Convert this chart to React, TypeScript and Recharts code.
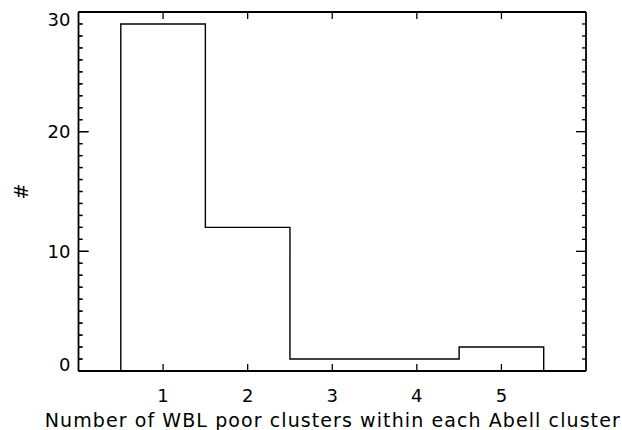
import React from 'react';
import { ComposedChart, Line, XAxis, YAxis, ReferenceLine } from 'recharts';

// histogram bins (centres) and counts
const binCenters = [1, 2, 3, 4, 5];
const counts = [29, 12, 1, 1, 2];
const xTicks = [1, 2, 3, 4, 5];
const yMajorTicks = [0, 10, 20, 30];
const yMinorStep = 1;
const xDomain: [number, number] = [0, 6];
const yDomain: [number, number] = [0, 30];

// build the step outline: left edge of each bin carries its count
const stepData = [
  { x: xDomain[0], y: 0 },
  ...binCenters.map((c, i) => ({ x: c - 0.5, y: counts[i] })),
  { x: binCenters[binCenters.length - 1] + 0.5, y: 0 },
  { x: xDomain[1], y: 0 },
];

const yAllTicks: number[] = [];
for (let v = yDomain[0]; v <= yDomain[1]; v += yMinorStep) yAllTicks.push(v);

const FONT = '"DejaVu Sans", sans-serif';
const INK = '#000';
const Y_AXIS_W = 78.5;
// left-frame tick length in x data units (plot is ~84.6px per unit)
const MAJOR_LEN = 10 / 84.6;
const MINOR_LEN = 4 / 84.6;

const BottomTick = (props: any) => {
  const { x, y, payload } = props;
  return (
    <g>
      <line x1={x} x2={x} y1={y} y2={Number(y) - 7} stroke={INK} strokeWidth={1.3} />
      <text x={x} y={Number(y) + 31} textAnchor="middle" fontSize={18} fontFamily={FONT} fill={INK}>
        {payload.value}
      </text>
    </g>
  );
};

const TopTick = (props: any) => {
  const { x, y } = props;
  return <line x1={x} x2={x} y1={y} y2={Number(y) + 7} stroke={INK} strokeWidth={1.3} />;
};

const LeftTick = (props: any) => {
  const x = Number(props.x);
  const y = Number(props.y);
  const v = props.payload.value;
  if (!yMajorTicks.includes(v)) return <g />;
  let base = y + 6.5;
  if (v === yDomain[0]) base = y;
  if (v === yDomain[1]) base = y + 14;
  return (
    <text x={x - 8} y={base} textAnchor="end" fontSize={18} fontFamily={FONT} fill={INK}>
      {v}
    </text>
  );
};

// inward tick marks on both sides of the frame
const RightTick = (props: any) => {
  const x = Number(props.x);
  const y = Number(props.y);
  const len = yMajorTicks.includes(props.payload.value) ? 10 : 4;
  return (
    <g>
      <path d={`M${x},${y}h${-len}`} stroke={INK} strokeWidth={1.3} />
      <path d={`M${Y_AXIS_W},${y}h${len}`} stroke={INK} strokeWidth={1.3} />
    </g>
  );
};

const XTitle = (props: any) => {
  const { viewBox } = props;
  const cx = viewBox.x + viewBox.width / 2;
  return (
    <text
      x={cx}
      y={viewBox.y + 56}
      textAnchor="middle"
      fontSize={19}
      fontFamily={FONT}
      fill={INK}
      textLength={575}
      lengthAdjust="spacing"
    >
      Number of WBL poor clusters within each Abell cluster
    </text>
  );
};

// "#" sits left of the frame, vertically centred on the plot
const YTitle = (props: any) => {
  const { viewBox } = props;
  const cy = viewBox.y + viewBox.height / 2;
  const cx = 28;
  return (
    <text
      x={cx}
      y={cy}
      textAnchor="middle"
      fontSize={19}
      fontFamily={FONT}
      fill={INK}
      transform={`rotate(-90 ${cx} ${cy})`}
    >
      #
    </text>
  );
};

export default function App() {
  return (
    <div style={{ position: 'absolute', left: 0, top: 0, width: 622, height: 430, background: '#fff' }}>
      <ComposedChart
        width={622}
        height={430}
        data={stepData}
        margin={{ top: 11, right: 35, bottom: 0, left: 0 }}
      >
        <XAxis
          xAxisId="bottom"
          dataKey="x"
          type="number"
          domain={xDomain}
          ticks={xTicks}
          interval={0}
          height={59}
          tickSize={0}
          tickMargin={0}
          tickLine={false}
          tick={<BottomTick />}
          axisLine={{ stroke: INK, strokeWidth: 1.8 }}
          allowDataOverflow
          label={<XTitle />}
        />
        <XAxis
          xAxisId="top"
          orientation="top"
          dataKey="x"
          type="number"
          domain={xDomain}
          ticks={xTicks}
          interval={0}
          height={1}
          tickSize={0}
          tickMargin={0}
          tickLine={false}
          tick={<TopTick />}
          axisLine={{ stroke: INK, strokeWidth: 1.8 }}
          allowDataOverflow
        />
        <YAxis
          yAxisId="left"
          type="number"
          domain={yDomain}
          ticks={yAllTicks}
          interval={0}
          width={Y_AXIS_W}
          tickSize={0}
          tickMargin={0}
          tickLine={false}
          tick={<LeftTick />}
          axisLine={{ stroke: INK, strokeWidth: 1.8 }}
          allowDataOverflow
        />
        <YAxis
          yAxisId="right"
          orientation="right"
          type="number"
          domain={yDomain}
          ticks={yAllTicks}
          interval={0}
          width={1}
          tickSize={0}
          tickMargin={0}
          tickLine={false}
          tick={<RightTick />}
          axisLine={{ stroke: INK, strokeWidth: 1.8 }}
          allowDataOverflow
          label={<YTitle />}
        />
        {yAllTicks.map((v) => (
          <ReferenceLine
            key={v}
            xAxisId="bottom"
            yAxisId="left"
            segment={[
              { x: xDomain[0], y: v },
              { x: xDomain[0] + (yMajorTicks.includes(v) ? MAJOR_LEN : MINOR_LEN), y: v },
            ]}
            stroke={INK}
            strokeWidth={1.3}
            ifOverflow="visible"
          />
        ))}
        <Line
          xAxisId="bottom"
          yAxisId="left"
          type="stepAfter"
          dataKey="y"
          stroke={INK}
          strokeWidth={1.4}
          dot={false}
          activeDot={false}
          isAnimationActive={false}
        />
      </ComposedChart>
    </div>
  );
}
